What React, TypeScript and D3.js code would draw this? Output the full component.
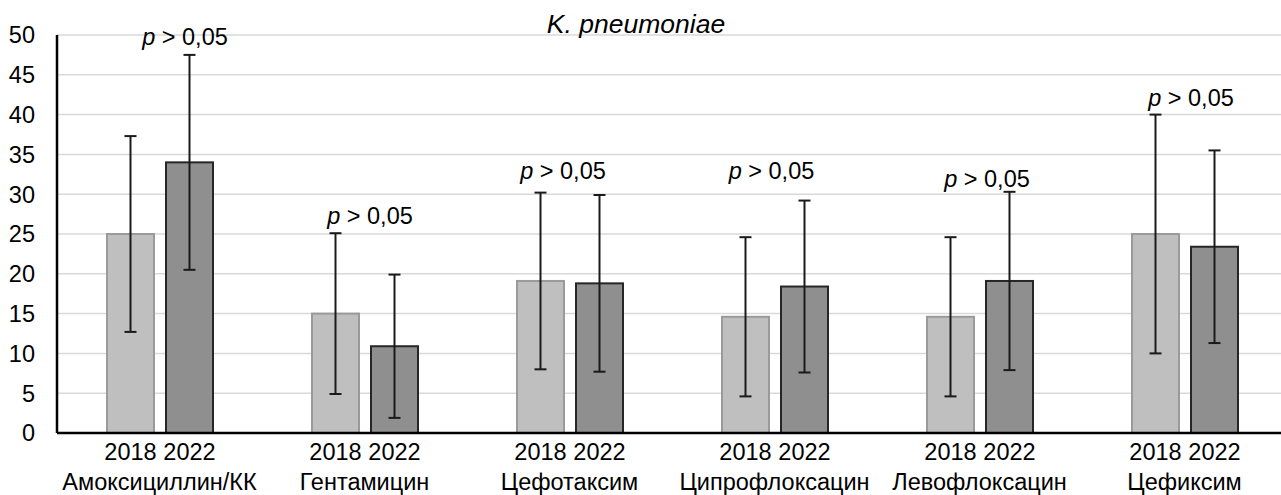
import React from "react";
import * as d3 from "d3";

const categories = ["Амоксициллин/КК", "Гентамицин", "Цефотаксим", "Ципрофлоксацин", "Левофлоксацин", "Цефиксим"];
const years = ["2018", "2022"];
const values2018 = [25, 15, 19.1, 14.6, 14.6, 25];
const values2022 = [34, 10.9, 18.8, 18.4, 19.1, 23.4];
const err2018 = [12.3, 10.1, 11.1, 10.0, 10.0, 15.0];
const err2022 = [13.5, 9.0, 11.1, 10.8, 11.2, 12.1];
const pLabelValue = [48.7, 26.3, 31.9, 31.9, 30.9, 41.1];
const pLabelDx = [25.5, 5.5, -6.5, -3, 7.5, 6.5];
const yTicks = d3.range(0, 51, 5);
const title = "K. pneumoniae";

const W = 1281;
const H = 495;
const left = 57;
const step = 205;
const FONT = "'Liberation Sans', Arial, sans-serif";
const FS = 23.5;

export default function App() {
  const x = d3.scaleBand<string>().domain(categories).range([left, left + step * categories.length]).padding(0);
  const xi = d3.scaleBand<string>().domain(years).range([50, 156]).paddingInner(12 / 59).paddingOuter(0);
  const y = d3.scaleLinear().domain([0, 50]).range([433, 35]);
  const series = [
    { year: "2018", vals: values2018, errs: err2018, fill: "#bfbfbf", stroke: "#9a9a9a" },
    { year: "2022", vals: values2022, errs: err2022, fill: "#8f8f8f", stroke: "#262626" },
  ];
  const cap = 6;
  return (
    <div style={{ position: "fixed", left: 0, top: 0 }}>
      <svg width={W} height={H} style={{ display: "block", background: "#fff" }} fontFamily={FONT}>
        {yTicks.slice(1).map((t) => (
          <line key={t} x1={left} x2={W} y1={y(t)} y2={y(t)} stroke="#d9d9d9" strokeWidth={1.5} />
        ))}
        {yTicks.map((t) => (
          <text key={t} x={35} y={y(t)} dy="0.36em" textAnchor="end" fontSize={FS} fill="#000">{t}</text>
        ))}
        {categories.map((c, i) => (
          <g key={c} transform={`translate(${x(c)},0)`}>
            {series.map((s) => {
              const bx = xi(s.year)!;
              const bw = xi.bandwidth();
              const v = s.vals[i];
              const e = s.errs[i];
              const cx = bx + bw / 2;
              return (
                <g key={s.year}>
                  <rect x={bx} y={y(v)} width={bw} height={y(0) - y(v)} fill={s.fill} stroke={s.stroke} strokeWidth={2} />
                  <line x1={cx} x2={cx} y1={y(v - e)} y2={y(v + e)} stroke="#1a1a1a" strokeWidth={2} />
                  <line x1={cx - cap} x2={cx + cap} y1={y(v + e)} y2={y(v + e)} stroke="#1a1a1a" strokeWidth={2} />
                  <line x1={cx - cap} x2={cx + cap} y1={y(v - e)} y2={y(v - e)} stroke="#1a1a1a" strokeWidth={2} />
                  <text x={cx} y={460} textAnchor="middle" fontSize={FS} fill="#000">{s.year}</text>
                </g>
              );
            })}
            <text x={step / 2} y={490} textAnchor="middle" fontSize={FS} fill="#000">{c}</text>
            <text x={step / 2 + pLabelDx[i]} y={y(pLabelValue[i])} textAnchor="middle" fontSize={FS} fill="#000">
              <tspan fontStyle="italic">p</tspan>
              <tspan> &gt; 0,05</tspan>
            </text>
          </g>
        ))}
        <line x1={left} x2={left} y1={y(50)} y2={y(0)} stroke="#000" strokeWidth={2.5} />
        <line x1={left} x2={W} y1={y(0)} y2={y(0)} stroke="#000" strokeWidth={2.5} />
        <text x={636} y={33} textAnchor="middle" fontSize={26.5} fontStyle="italic" fill="#000">{title}</text>
      </svg>
    </div>
  );
}
